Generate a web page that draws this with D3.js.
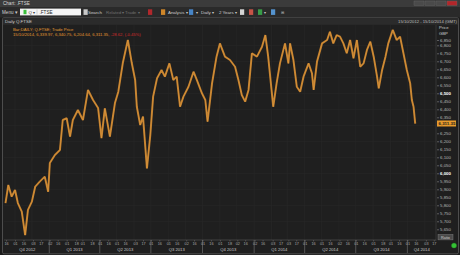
<!DOCTYPE html>
<html>
<head>
<meta charset="utf-8">
<script src="https://cdn.jsdelivr.net/npm/d3@7"></script>
<style>
  body { margin: 0; background: #1b1b1b; overflow: hidden; }
  svg { display: block; font-family: "Liberation Sans", Arial, sans-serif; }
</style>
</head>
<body>
<svg id="chart" width="460" height="255"></svg>
<script>
// Daily FTSE close
const dates = [
  "2012-10-15","2012-10-20","2012-10-26","2012-11-01","2012-11-06","2012-11-13","2012-11-19","2012-11-24",
  "2012-12-01","2012-12-07","2012-12-15","2012-12-24","2012-12-30","2013-01-02","2013-01-11","2013-01-20",
  "2013-01-25","2013-02-01","2013-02-07","2013-02-12","2013-02-21","2013-03-02","2013-03-11","2013-03-20",
  "2013-03-29","2013-04-04","2013-04-10","2013-04-19","2013-04-28","2013-05-04","2013-05-12","2013-05-21",
  "2013-05-28","2013-06-03","2013-06-06","2013-06-12","2013-06-17","2013-06-24","2013-06-30","2013-07-05",
  "2013-07-12","2013-07-20","2013-07-26","2013-08-03","2013-08-10","2013-08-16","2013-08-22","2013-08-28",
  "2013-09-06","2013-09-15","2013-09-21","2013-09-30","2013-10-06","2013-10-10","2013-10-18","2013-10-26",
  "2013-11-01","2013-11-10","2013-11-19","2013-11-28","2013-12-04","2013-12-10","2013-12-16","2013-12-22",
  "2013-12-28","2014-01-06","2014-01-15","2014-01-21","2014-01-26","2014-02-01","2014-02-04","2014-02-10",
  "2014-02-16","2014-02-25","2014-03-03","2014-03-06","2014-03-12","2014-03-18","2014-03-24","2014-03-30",
  "2014-04-08","2014-04-14","2014-04-17","2014-04-23","2014-05-02","2014-05-11","2014-05-16","2014-05-22",
  "2014-05-28","2014-06-03","2014-06-09","2014-06-15","2014-06-21","2014-06-27","2014-07-03","2014-07-09",
  "2014-07-15","2014-07-21","2014-07-27","2014-08-02","2014-08-08","2014-08-11","2014-08-17","2014-08-23",
  "2014-08-28","2014-09-05","2014-09-12","2014-09-18","2014-09-24","2014-09-30","2014-10-06","2014-10-09",
  "2014-10-12","2014-10-15"
];
const closes = [
  5814, 5927, 5854, 5896, 5814, 5760, 5614, 5771,
  5823, 5917, 5948, 5979, 5885, 6064, 6114, 6146,
  6333, 6344, 6229, 6333, 6396, 6333, 6521, 6458,
  6408, 6220, 6406, 6229, 6439, 6510, 6689, 6833,
  6689, 6583, 6416, 6302, 6354, 6031, 6240, 6479,
  6594, 6646, 6604, 6687, 6583, 6604, 6416, 6479,
  6541, 6635, 6583, 6500, 6458, 6323, 6562, 6729,
  6812, 6729, 6708, 6666, 6583, 6489, 6448, 6521,
  6750, 6729, 6791, 6864, 6729, 6521, 6416, 6562,
  6687, 6812, 6687, 6812, 6708, 6541, 6510, 6604,
  6687, 6625, 6521, 6698, 6812, 6833, 6885, 6812,
  6864, 6854, 6812, 6750, 6833, 6719, 6833, 6666,
  6687, 6771, 6823, 6729, 6604, 6531, 6646, 6729,
  6812, 6896, 6833, 6854, 6750, 6646, 6562, 6458,
  6416, 6311
];

const yTicks = [5650, 5700, 5750, 5800, 5850, 5900, 5950, 6000, 6050, 6100, 6150, 6200, 6250,
  6300, 6350, 6400, 6450, 6500, 6550, 6600, 6650, 6700, 6750, 6800, 6850];
const quarterLabels = ["Q4 2012", "Q1 2013", "Q2 2013", "Q3 2013", "Q4 2013", "Q1 2014", "Q2 2014", "Q3 2014", "Q4 2014"];
const quarterStarts = ["2012-10-15", "2013-01-01", "2013-04-01", "2013-07-01", "2013-10-01",
  "2014-01-01", "2014-04-01", "2014-07-01", "2014-10-01"];
const lastClose = 6311.35;

const parse = d3.timeParse("%Y-%m-%d");
const data = dates.map((d, i) => ({ date: parse(d), close: closes[i] }));

const svg = d3.select("#chart");
const plotLeft = 4, plotRight = 436, plotTop = 25, plotBottom = 240;

const x = d3.scaleTime()
  .domain([parse("2012-10-15"), parse("2014-11-21")])
  .range([5.5, plotRight]);
const y = d3.scaleLinear()
  .domain([6000, 6850])
  .range([173.3, 37.3]);

// window chrome
svg.append("rect").attr("width", 460).attr("height", 255).attr("fill", "#1b1b1b");
svg.append("rect").attr("width", 460).attr("height", 7).attr("fill", "#3b3b3b");
svg.append("text").attr("x", 3).attr("y", 5.3).attr("font-size", 4.6).attr("fill", "#d8d8d8").text("Chart: .FTSE");

const winBtns = [{ x: 414, c: "#4a4a4a" }, { x: 425, c: "#4a4a4a" }, { x: 436, c: "#4a4a4a" }, { x: 447, c: "#b3262a" }];
svg.selectAll("rect.win").data(winBtns).enter().append("rect")
  .attr("class", "win")
  .attr("x", d => d.x).attr("y", 1).attr("width", 10).attr("height", 4.5)
  .attr("fill", d => d.c).attr("stroke", "#666").attr("stroke-width", 0.4);

// toolbar
svg.append("rect").attr("y", 7).attr("width", 460).attr("height", 10.5).attr("fill", "#2a2a2a");
svg.append("text").attr("x", 2).attr("y", 13.8).attr("font-size", 4.6).attr("fill", "#cfcfcf").text("Menu ▾");
svg.append("rect").attr("x", 20).attr("y", 8.6).attr("width", 61).attr("height", 6.8).attr("fill", "#f4f4f4");
svg.append("rect").attr("x", 23.5).attr("y", 9.8).attr("width", 3).attr("height", 4.4).attr("fill", "#3bbf3b");
svg.append("text").attr("x", 28.5).attr("y", 13.8).attr("font-size", 4.4).attr("fill", "#333").text("Q ▾");
svg.append("line").attr("x1", 37).attr("x2", 37).attr("y1", 9.5).attr("y2", 14.5).attr("stroke", "#999").attr("stroke-width", 0.4);
svg.append("text").attr("x", 39.5).attr("y", 13.8).attr("font-size", 4.6).attr("fill", "#222").text(".FTSE");

const toolItems = [
  { x: 88, t: "Search", c: "#cfcfcf" },
  { x: 106, t: "Related ▾", c: "#707070" },
  { x: 125, t: "Trade ▾", c: "#707070" },
  { x: 168, t: "Analysis ▾", c: "#cfcfcf" },
  { x: 196, t: "▾", c: "#cfcfcf" },
  { x: 201, t: "Daily ▾", c: "#cfcfcf" },
  { x: 219, t: "2 Years ▾", c: "#cfcfcf" },
  { x: 264, t: "▾", c: "#cfcfcf" },
  { x: 281, t: "⊞", c: "#bbbbbb" }
];
svg.selectAll("text.tool").data(toolItems).enter().append("text")
  .attr("class", "tool")
  .attr("x", d => d.x).attr("y", 13.8).attr("font-size", 4.4)
  .attr("fill", d => d.c).text(d => d.t);

const toolIcons = [
  { x: 83.5, c: "#d9d9d9" }, { x: 148, c: "#c0282c" }, { x: 161, c: "#e0902a" },
  { x: 189, c: "#4a8fd8" }, { x: 240, c: "#e8e8e8" }, { x: 249, c: "#d7584a" },
  { x: 258, c: "#3aa84a" }, { x: 271, c: "#5a9ee0" }
];
svg.selectAll("rect.icon").data(toolIcons).enter().append("rect")
  .attr("class", "icon")
  .attr("x", d => d.x).attr("y", 9.3).attr("width", 4.2).attr("height", 5.6)
  .attr("fill", d => d.c).attr("opacity", 0.9);

// panel
svg.append("rect").attr("x", 2.5).attr("y", 17.8).attr("width", 456).attr("height", 236)
  .attr("fill", "#1f1f1f").attr("stroke", "#5a5a5a").attr("stroke-width", 0.8).attr("rx", 1.5);
svg.append("rect").attr("x", 3).attr("y", 18.2).attr("width", 455).attr("height", 6.6).attr("fill", "#2b2b2b");
svg.append("text").attr("x", 5).attr("y", 23).attr("font-size", 4.4).attr("fill", "#cfcfcf").text("Daily Q.FTSE");
svg.append("text").attr("x", 457).attr("y", 22.8).attr("font-size", 4.2).attr("text-anchor", "end")
  .attr("fill", "#bdbdbd").text("15/10/2012 - 15/10/2014 (GMT)");

// grid
const months = d3.timeMonth.range(parse("2012-11-01"), parse("2014-11-21"));
svg.append("g").selectAll("line").data(months).enter().append("line")
  .attr("x1", d => x(d)).attr("x2", d => x(d))
  .attr("y1", plotTop).attr("y2", plotBottom)
  .attr("stroke", "#292929").attr("stroke-width", 0.6);
svg.append("g").selectAll("line").data(yTicks.filter(v => v % 100 === 0)).enter().append("line")
  .attr("x1", plotLeft).attr("x2", plotRight)
  .attr("y1", d => y(d)).attr("y2", d => y(d))
  .attr("stroke", "#292929").attr("stroke-width", 0.6);

// price line
svg.append("defs").append("clipPath").attr("id", "plot")
  .append("rect").attr("x", plotLeft).attr("y", plotTop).attr("width", plotRight - plotLeft).attr("height", plotBottom - plotTop);
const line = d3.line().x(d => x(d.date)).y(d => y(d.close));
svg.append("path").datum(data)
  .attr("clip-path", "url(#plot)")
  .attr("d", line)
  .attr("fill", "none")
  .attr("stroke", "#b97a2c")
  .attr("stroke-width", 2)
  .attr("stroke-linejoin", "bevel");
svg.append("path").datum(data)
  .attr("clip-path", "url(#plot)")
  .attr("d", line)
  .attr("fill", "none")
  .attr("stroke", "#eea445")
  .attr("stroke-width", 0.6)
  .attr("opacity", 0.8);

// legend
svg.append("text").attr("x", 13).attr("y", 31).attr("font-size", 4.2).attr("fill", "#e39a32")
  .text("Bar;DAILY; Q.FTSE; Trade Price");
const leg = svg.append("text").attr("x", 13).attr("y", 36).attr("font-size", 4.2);
leg.append("tspan").attr("fill", "#e39a32").text("15/10/2014, 6,339.97, 6,340.75, 6,204.64, 6,311.35, ");
leg.append("tspan").attr("fill", "#d42a2a").text("-28.62, (-0.45%)");

// right price axis
svg.append("line").attr("x1", plotRight).attr("x2", plotRight).attr("y1", plotTop).attr("y2", 241)
  .attr("stroke", "#474747").attr("stroke-width", 0.6);
svg.append("text").attr("x", 439).attr("y", 29).attr("font-size", 4.2).attr("fill", "#cfcfcf").text("Price");
svg.append("text").attr("x", 439).attr("y", 34.5).attr("font-size", 4.2).attr("fill", "#cfcfcf").text("GBP");

const yAxis = svg.append("g")
  .attr("transform", `translate(${plotRight + 1},0)`)
  .call(d3.axisRight(y).tickValues(yTicks).tickSize(2).tickPadding(1).tickFormat(d3.format(",")));
yAxis.select(".domain").remove();
yAxis.selectAll("line").attr("stroke", "#9a9a9a").attr("stroke-width", 0.5);
yAxis.selectAll("text")
  .attr("font-size", 4.4)
  .attr("font-family", "Liberation Sans, Arial, sans-serif")
  .attr("fill", d => (d === 6000 || d === 6500) ? "#ffffff" : "#b5b5b5")
  .attr("font-weight", d => (d === 6000 || d === 6500) ? "bold" : "normal");
yAxis.selectAll(".tick").filter(d => d === 6850).attr("transform", `translate(0,${y(6850) + 3.2})`);
// the last-price tag covers the tick label next to it
yAxis.selectAll(".tick").filter(d => Math.abs(y(d) - y(lastClose)) < 4).select("text").remove();

// last price tag
const tag = svg.append("g").attr("transform", `translate(${plotRight + 1},${y(lastClose)})`);
tag.append("rect").attr("x", 0).attr("y", -3).attr("width", 19).attr("height", 6).attr("fill", "#e89b2c");
tag.append("text").attr("x", 1.5).attr("y", 1.6).attr("font-size", 4.4).attr("font-weight", "bold")
  .attr("fill", "#1a1a1a").text(d3.format(",.2f")(lastClose));

// Ratio button and status light
svg.append("rect").attr("x", 438).attr("y", 234.5).attr("width", 15).attr("height", 5.4)
  .attr("fill", "#4a4a4a").attr("stroke", "#8a8a8a").attr("stroke-width", 0.4);
svg.append("text").attr("x", 445.5).attr("y", 238.6).attr("font-size", 3.8).attr("text-anchor", "middle")
  .attr("fill", "#cfcfcf").text("Ratio");
svg.append("circle").attr("cx", 454).attr("cy", 245.5).attr("r", 2.6).attr("fill", "#35c235")
  .attr("stroke", "#1b6e1b").attr("stroke-width", 0.4);

// bottom time axis
const tickDates = [];
d3.timeMonth.range(parse("2012-10-01"), parse("2014-12-01")).forEach(m => {
  [1, 16].forEach(day => {
    let d = new Date(m.getFullYear(), m.getMonth(), day);
    while (d.getDay() === 0 || d.getDay() === 6 || (d.getMonth() === 0 && d.getDate() === 1)) d = d3.timeDay.offset(d, 1);
    if (d >= parse("2012-10-16") && x(d) < plotRight - 1) tickDates.push(d);
  });
});
const xAxis = svg.append("g")
  .attr("transform", `translate(0,${plotBottom})`)
  .call(d3.axisBottom(x).tickValues(tickDates).tickSize(1.5).tickPadding(1).tickFormat(d3.timeFormat("%d")));
xAxis.select(".domain").attr("d", `M${plotLeft},0H${plotRight}`).attr("stroke", "#5a5a5a").attr("stroke-width", 0.6);
xAxis.selectAll("line").attr("stroke", "#8a8a8a").attr("stroke-width", 0.4);
xAxis.selectAll("text").attr("font-size", 3.8).attr("fill", "#a8a8a8")
  .attr("font-family", "Liberation Sans, Arial, sans-serif");

const qStart = quarterStarts.map(parse);
const qEnd = qStart.slice(1).concat([x.domain()[1]]);
svg.append("g").selectAll("line").data(qStart.slice(1)).enter().append("line")
  .attr("x1", d => x(d)).attr("x2", d => x(d))
  .attr("y1", plotBottom).attr("y2", 253)
  .attr("stroke", "#8a8a8a").attr("stroke-width", 0.5);
svg.append("g").selectAll("text").data(quarterLabels).enter().append("text")
  .attr("x", (d, i) => (x(qStart[i]) + x(qEnd[i])) / 2)
  .attr("y", 251)
  .attr("text-anchor", "middle")
  .attr("font-size", 4.2)
  .attr("fill", "#c8c8c8")
  .text(d => d);
</script>
</body>
</html>
